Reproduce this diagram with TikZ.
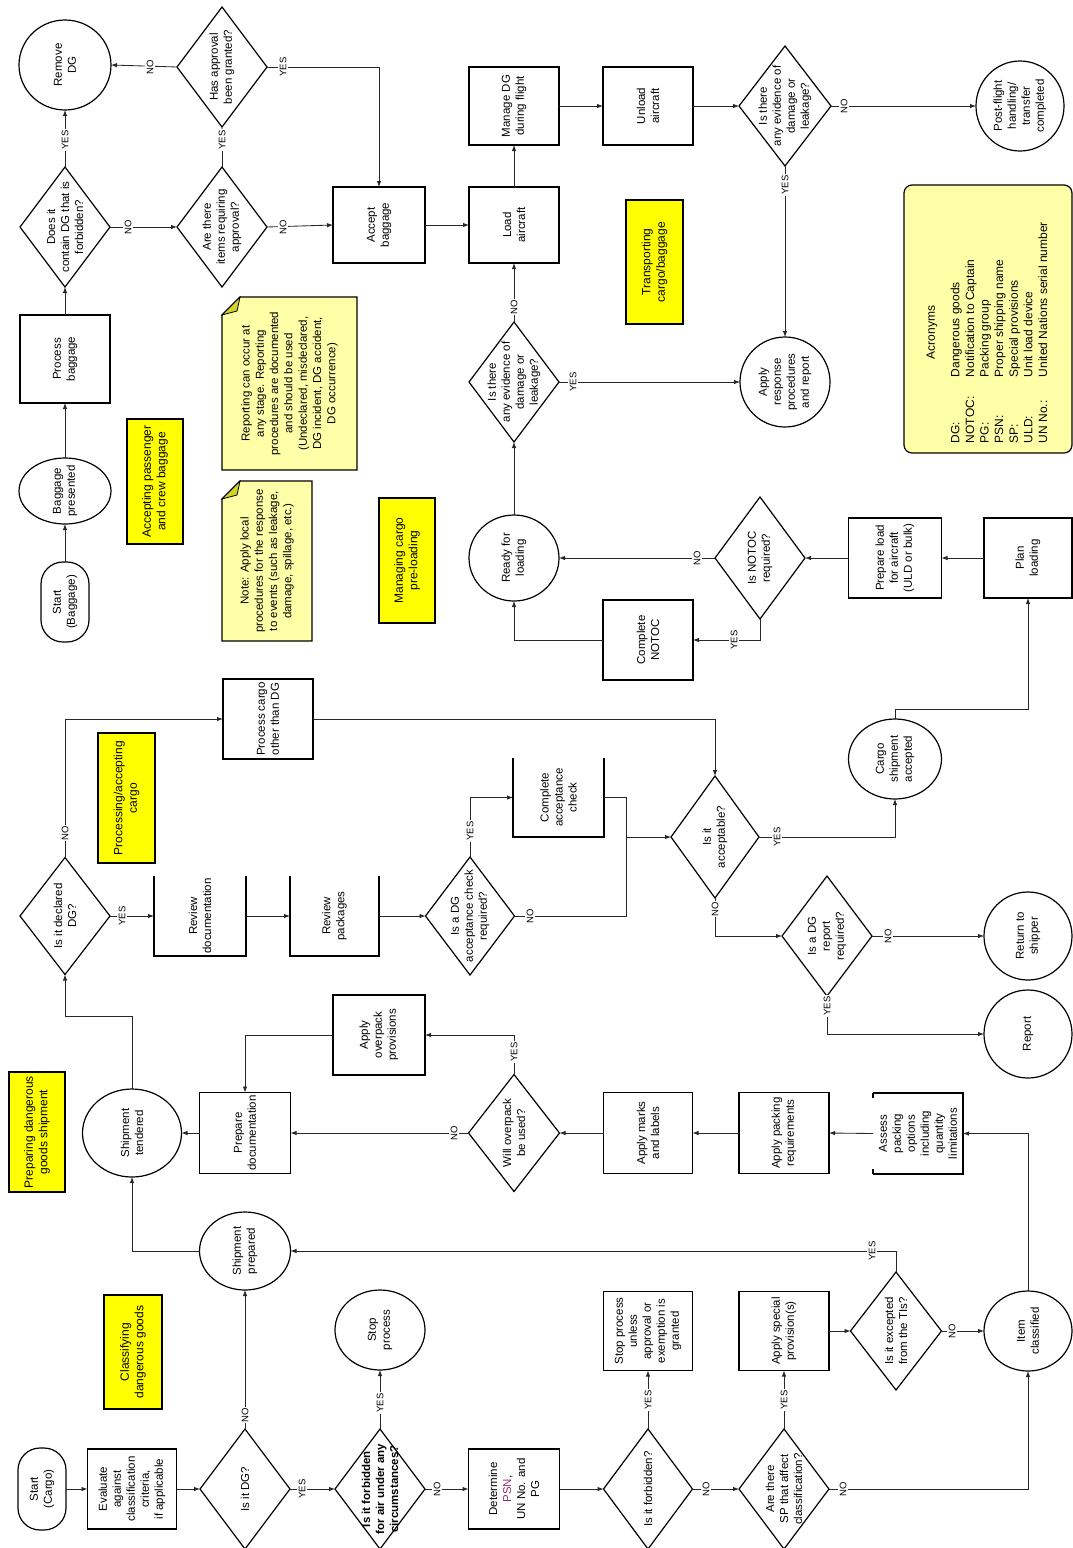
\documentclass[tikz,border=0pt]{standalone}
\usepackage{fontspec}
\setmainfont{Liberation Sans}
\usetikzlibrary{shapes.geometric,arrows.meta}
\definecolor{noteY}{RGB}{255,255,168}
\definecolor{labY}{RGB}{255,255,0}
\definecolor{foldY}{RGB}{212,212,40}
\definecolor{ln}{RGB}{40,40,40}
\definecolor{psn}{RGB}{150,50,110}
\newcommand{\mynode}[4]{\node[#1] (#2) at (#3) {}; \node[txt] (#2-t) at (#2.center) {#4};}
\newcommand{\mylab}[4]{\node[#1] (#2) at (#3) {}; \node[labt] (#2-t) at (#2.center) {#4};}
\begin{document}
\begin{tikzpicture}[x=1pt,y=-1pt,
  every node/.style={inner sep=0pt, outer sep=0pt},
  proc/.style={draw, line width=1.2pt, fill=white, minimum width=90pt, minimum height=80pt},
  dec/.style={diamond, draw, line width=1.2pt, fill=white, minimum width=90pt, minimum height=120pt},
  term/.style={ellipse, draw, line width=1.2pt, fill=white, minimum width=90pt, minimum height=88pt},
  startn/.style={draw, line width=1.2pt, fill=white, rounded corners=22pt, minimum width=48pt, minimum height=80pt},
  docn/.style={minimum width=90pt, minimum height=80pt},
  lab/.style={draw, line width=1.2pt, fill=labY, minimum width=57pt, minimum height=125pt},
  txt/.style={rotate=90, align=center, font=\fontsize{11.5}{14}\selectfont},
  labt/.style={rotate=90, align=center, font=\fontsize{12}{14.5}\selectfont},
  yn/.style={rotate=90, fill=white, font=\fontsize{9.5}{10}\selectfont, inner sep=1.3pt},
  con/.style={draw=ln, line width=0.85pt, -{Latex[length=6pt,width=4.5pt]}},
  lin/.style={draw=ln, line width=0.85pt},
  dline/.style={line width=1.2pt}]
\fill[white] (0,0) rectangle (1073,1548);
\useasboundingbox (0,0) rectangle (1073,1548);

% ---------- baggage flow ----------
\mynode{startn}{stB}{65,602}{Start\\(Baggage)}
\mynode{term, minimum height=66pt, minimum width=92pt}{bagp}{65,491}{Baggage\\presented}
\mynode{proc, minimum height=88pt}{procbag}{65,359}{Process\\baggage}
\mynode{dec}{dcont}{65,227}{Does it\\contain DG that is\\forbidden?}
\mynode{term, minimum height=90pt, minimum width=92pt}{remdg}{65,65}{Remove\\DG}
\mynode{dec}{areit}{222,227}{Are there\\items requiring\\approval?}
\mynode{dec}{hasap}{222,67}{Has approval\\been granted?}
\mynode{proc, minimum width=92pt, minimum height=76pt}{accb}{379,225}{Accept\\baggage}
\mynode{proc, minimum height=76pt}{load}{514,225}{Load\\aircraft}
\mynode{proc, minimum height=78pt}{mandg}{514,106}{Manage DG\\during flight}
\mynode{proc, minimum height=78pt}{unl}{648,106}{Unload\\aircraft}
\mynode{dec, minimum width=92pt}{evb}{785,106}{Is there\\any evidence of\\damage or\\leakage?}
\mynode{term, minimum width=88pt, minimum height=90pt}{postf}{1020,106}{Post-flight\\handling/\\transfer\\completed}
\mynode{term, minimum height=90pt}{aresp}{785,382}{Apply\\response\\procedures\\and report}
\mynode{dec}{eva}{514,382}{Is there\\any evidence of\\damage or\\leakage?}
\mynode{term, minimum height=86pt}{ready}{514,558}{Ready for\\loading}
\mynode{proc}{cnotoc}{648,640}{Complete\\NOTOC}
\mynode{dec, minimum height=122pt}{notreq}{760,558}{Is NOTOC\\required?}
\mynode{proc, minimum width=93pt}{prepl}{895,558}{Prepare load\\for aircraft\\(ULD or bulk)}
\mynode{proc, minimum width=88pt}{plan}{1028,558}{Plan\\loading}

% ---------- cargo acceptance ----------
\mynode{term, minimum width=93pt, minimum height=80pt}{cacc}{895,759}{Cargo\\shipment\\accepted}
\mynode{dec, minimum width=88pt, minimum height=122pt}{accpt}{715,837}{Is it\\acceptable?}
\mynode{dec}{dgrep}{827,936}{Is a DG\\report\\required?}
\mynode{term, minimum width=88pt}{retsh}{1028,936}{Return to\\shipper}
\mynode{term, minimum width=88pt}{report}{1028,1034}{Report}
\mynode{proc}{pcargo}{268,719}{Process cargo\\other than DG}
\mynode{dec, minimum height=117pt}{decl}{65,916}{Is it declared\\DG?}
\mynode{docn, minimum width=92pt}{revdoc}{200,916}{Review\\documentation}
\mynode{docn, minimum width=89pt}{revpak}{334.5,916}{Review\\packages}
\mynode{dec, minimum width=89pt, minimum height=118pt}{acchk}{470,916}{Is a DG\\acceptance check\\required?}
\mynode{docn, minimum width=91pt, minimum height=79pt}{compac}{558.5,797.5}{Complete\\acceptance\\check}

% ---------- classification / preparation ----------
\mynode{startn, minimum height=82pt}{stC}{42,1489}{Start\\(Cargo)}
\mynode{proc, minimum width=89pt}{evalc}{132,1489}{Evaluate\\against\\classification\\criteria,\\if applicable}
\mynode{dec}{isdg}{245,1489}{Is it DG?}
\mynode{term, minimum width=91pt, minimum height=78pt}{shprep}{245,1251}{Shipment\\prepared}
\mynode{term, minimum width=99pt, minimum height=88pt}{shtend}{132,1133}{Shipment\\tendered}
\mynode{proc, minimum width=91pt, minimum height=81pt}{prepdoc}{245,1133}{Prepare\\documentation}
\mynode{proc, minimum width=92pt}{apover}{379,1035}{Apply\\overpack\\provisions}
\mynode{dec, minimum width=91pt, minimum height=117pt}{willov}{514,1133}{Will overpack\\be used?}
\mynode{proc, minimum width=89pt, minimum height=81pt}{apmark}{648,1133}{Apply marks\\and labels}
\mynode{proc, minimum height=81pt}{appack}{784,1133}{Apply packing\\requirements}
\mynode{docn, minimum height=81pt}{assess}{918,1133.5}{Assess\\packing\\options\\including\\quantity\\limitations}
\mynode{term, minimum width=88pt, minimum height=80pt}{itemc}{1028,1331}{Item\\classified}
\mynode{dec}{forbair}{380,1489}{\textbf{Is it forbidden}\\\textbf{for air under any}\\\textbf{circumstances?}}
\mynode{term, minimum height=80pt}{stopp}{380,1330}{Stop\\process}
\mynode{proc, minimum width=91pt}{determ}{514,1489}{Determine\\\textcolor{psn}{PSN},\\UN No. and\\PG}
\mynode{dec, minimum width=89pt}{isforb}{648,1489}{Is it forbidden?}
\mynode{proc, minimum width=89pt, minimum height=79pt}{stopu}{648,1331}{Stop process\\unless\\approval or\\exemption is\\granted}
\mynode{dec}{sparq}{784,1489}{Are there\\SP that affect\\classification?}
\mynode{proc, minimum height=79pt}{apsp}{784,1331}{Apply special\\provision(s)}
\mynode{dec, minimum width=91pt, minimum height=118pt}{excpt}{896,1331}{Is it excepted\\from the TIs?}

% ---------- document-style boxes (one side open) ----------
\draw[dline] (revdoc.north west) -- (revdoc.south west) -- (revdoc.south east) -- (revdoc.north east);
\draw[dline] (revpak.north west) -- (revpak.south west) -- (revpak.south east) -- (revpak.north east);
\draw[dline] (compac.north west) -- (compac.south west) -- (compac.south east) -- (compac.north east);
\draw[dline] (assess.north west) -- (assess.north east) -- (assess.south east) -- (assess.south west);
\draw[dline] (assess.north west) -- ++(0,5);
\draw[dline] (assess.south west) -- ++(0,-5);

% ---------- yellow phase labels ----------
\mylab{lab, minimum width=56pt, minimum height=125pt}{lacc}{155,481.5}{Accepting passenger\\and crew baggage}
\mylab{lab, minimum width=56pt}{lman}{407,560.5}{Managing cargo\\pre-loading}
\mylab{lab, minimum height=124pt}{ltrans}{654.5,262}{Transporting\\cargo/baggage}
\mylab{lab, minimum height=130pt}{lproc}{126.5,798}{Processing/accepting\\cargo}
\mylab{lab, minimum width=56pt, minimum height=120pt}{lprep}{37,1132}{Preparing dangerous\\goods shipment}
\mylab{lab, minimum width=58pt, minimum height=114pt}{lclass}{133,1352}{Classifying\\dangerous goods}

% ---------- notes ----------
\node[minimum width=135pt, minimum height=173pt] (nrep) at (289.5,383.5) {};
\filldraw[fill=noteY, draw=black, line width=1.2pt] (nrep.north west) ++(0,18) -- ++(18,-18) -- (nrep.north east) -- (nrep.south east) -- (nrep.south west) -- cycle;
\filldraw[fill=foldY, draw=black, line width=0.8pt] (nrep.north west) ++(0,18) -- ++(18,-18) -- ++(-3,14) -- cycle;
\node[rotate=90, align=center, font=\fontsize{11.5}{14.3}\selectfont] (nrep-t) at (nrep) {Reporting can occur at\\any stage. Reporting\\procedures are documented\\and should be used\\(Undeclared, misdeclared,\\DG incident, DG accident,\\DG occurrence)};

\node[minimum width=90pt, minimum height=160pt] (nloc) at (267,561) {};
\filldraw[fill=noteY, draw=black, line width=1.2pt] (nloc.north west) ++(0,18) -- ++(18,-18) -- (nloc.north east) -- (nloc.south east) -- (nloc.south west) -- cycle;
\filldraw[fill=foldY, draw=black, line width=0.8pt] (nloc.north west) ++(0,18) -- ++(18,-18) -- ++(-3,14) -- cycle;
\node[rotate=90, align=center, font=\fontsize{11.5}{14.3}\selectfont] (nloc-t) at (nloc) {Note: Apply local\\procedures for the response\\to events (such as leakage,\\damage, spillage, etc.)};

% ---------- acronyms ----------
\node[draw, line width=1.2pt, rounded corners=8pt, fill=noteY, minimum width=168pt, minimum height=268pt] (acr) at (988,319) {};
\node[rotate=90, anchor=west, font=\fontsize{12}{14.6}\selectfont] (acr-t) at (988,443) {\begin{tabular}{@{}p{66pt}@{}l@{}}
\multicolumn{2}{c}{Acronyms}\\[10pt]
DG: & Dangerous goods\\
NOTOC: & Notification to Captain\\
PG: & Packing group\\
PSN: & Proper shipping name\\
SP: & Special provisions\\
ULD: & Unit load device\\
UN No.: & United Nations serial number
\end{tabular}};

% ---------- junction coordinates ----------
\coordinate (jn) at (626,837);
\coordinate (tj) at (132,1016);
\coordinate (cj) at (895,709);

% ---------- connectors ----------
\draw[con] (stB.north) -- (bagp.south);
\draw[con] (bagp.north) -- (procbag.south);
\draw[con] (procbag.north) -- (dcont.south);
\draw[con] (dcont.north) -- (remdg.south);
\draw[con] (dcont.east) -- (areit.west);
\draw[con] (areit.north) -- (hasap.south);
\draw[con] (hasap.west) -- (remdg.east);
\draw[con] (hasap.east) -| (accb.north);
\draw[con] (areit.east) -- (accb.west);
\draw[con] (accb.east) -- (load.west);
\draw[con] (load.north) -- (mandg.south);
\draw[con] (mandg.east) -- (unl.west);
\draw[con] (unl.east) -- (evb.west);
\draw[con] (evb.east) -- (postf.west);
\draw[con] (evb.south) -- (aresp.north);
\draw[con] (eva.north) -- (load.south);
\draw[con] (eva.east) -- (aresp.west);
\draw[con] (ready.north) -- (eva.south);
\draw[con] (cnotoc.west) -| (ready.south);
\draw[con] (notreq.west) -- (ready.east);
\draw[con] (notreq.south) |- (cnotoc.east);
\draw[con] (prepl.west) -- (notreq.east);
\draw[con] (plan.west) -- (prepl.east);
\draw[con] (cacc.north) -- (cj) -| (plan.south);
\draw[con] (accpt.east) -| (cacc.south);
\draw[con] (accpt.south) |- (dgrep.west);
\draw[con] (dgrep.east) -- (retsh.west);
\draw[con] (dgrep.south) |- (report.west);
\draw[con] (decl.north) |- (pcargo.west);
\draw[con] (pcargo.east) -| (accpt.north);
\draw[con] (decl.east) -- (revdoc.west);
\draw[con] (revdoc.east) -- (revpak.west);
\draw[con] (revpak.east) -- (acchk.west);
\draw[con] (acchk.north) |- (compac.west);
\draw[lin] (compac.east) -| (jn);
\draw[lin] (acchk.east) -| (jn);
\draw[con] (jn) -- (accpt.west);
\draw[con] (stC.east) -- (evalc.west);
\draw[con] (evalc.east) -- (isdg.west);
\draw[con] (isdg.north) -- (shprep.south);
\draw[con] (isdg.east) -- (forbair.west);
\draw[con] (forbair.north) -- (stopp.south);
\draw[con] (forbair.east) -- (determ.west);
\draw[con] (determ.east) -- (isforb.west);
\draw[con] (isforb.north) -- (stopu.south);
\draw[con] (isforb.east) -- (sparq.west);
\draw[con] (sparq.north) -- (apsp.south);
\draw[con] (sparq.east) -| (itemc.south);
\draw[con] (apsp.east) -- (excpt.west);
\draw[con] (excpt.east) -- (itemc.west);
\draw[con] (excpt.north) |- (shprep.east);
\draw[con] (itemc.north) |- (assess.east);
\draw[con] (assess.west) -- (appack.east);
\draw[con] (appack.west) -- (apmark.east);
\draw[con] (apmark.west) -- (willov.east);
\draw[con] (willov.west) -- (prepdoc.east);
\draw[con] (willov.north) |- (apover.east);
\draw[con] (apover.west) -| (prepdoc.north);
\draw[con] (prepdoc.west) -- (shtend.east);
\draw[con] (shprep.west) -| (shtend.south);
\draw[con] (shtend.north) -- (tj) -| (decl.south);

% ---------- YES / NO labels ----------
\node[yn] (l1) at (65,140) {YES};
\node[yn] (l2) at (128,227) {NO};
\node[yn] (l3) at (222,140) {YES};
\node[yn] (l4) at (150,67) {NO};
\node[yn] (l5) at (283,67) {YES};
\node[yn] (l6) at (283,227) {NO};
\node[yn] (l7) at (844,106) {NO};
\node[yn] (l8) at (785,185) {YES};
\node[yn] (l9) at (514,307) {NO};
\node[yn] (l10) at (573,382) {YES};
\node[yn] (l11) at (697,558) {NO};
\node[yn] (l12) at (734,640) {YES};
\node[yn] (l13) at (777,837) {YES};
\node[yn] (l14) at (715,909) {NO};
\node[yn] (l15) at (888,936) {NO};
\node[yn] (l16) at (827,1006) {YES};
\node[yn] (l17) at (65,833) {NO};
\node[yn] (l18) at (122,916) {YES};
\node[yn] (l19) at (470,831) {YES};
\node[yn] (l20) at (530,916) {NO};
\node[yn] (l21) at (245,1415) {NO};
\node[yn] (l22) at (302,1489) {YES};
\node[yn] (l23) at (380,1403) {YES};
\node[yn] (l24) at (437,1489) {NO};
\node[yn] (l25) at (648,1400) {YES};
\node[yn] (l26) at (706,1489) {NO};
\node[yn] (l27) at (784,1400) {YES};
\node[yn] (l28) at (843,1489) {NO};
\node[yn] (l29) at (952,1331) {NO};
\node[yn] (l30) at (872,1251) {YES};
\node[yn] (l31) at (454,1133) {NO};
\node[yn] (l32) at (514,1052) {YES};
\end{tikzpicture}
\end{document}
